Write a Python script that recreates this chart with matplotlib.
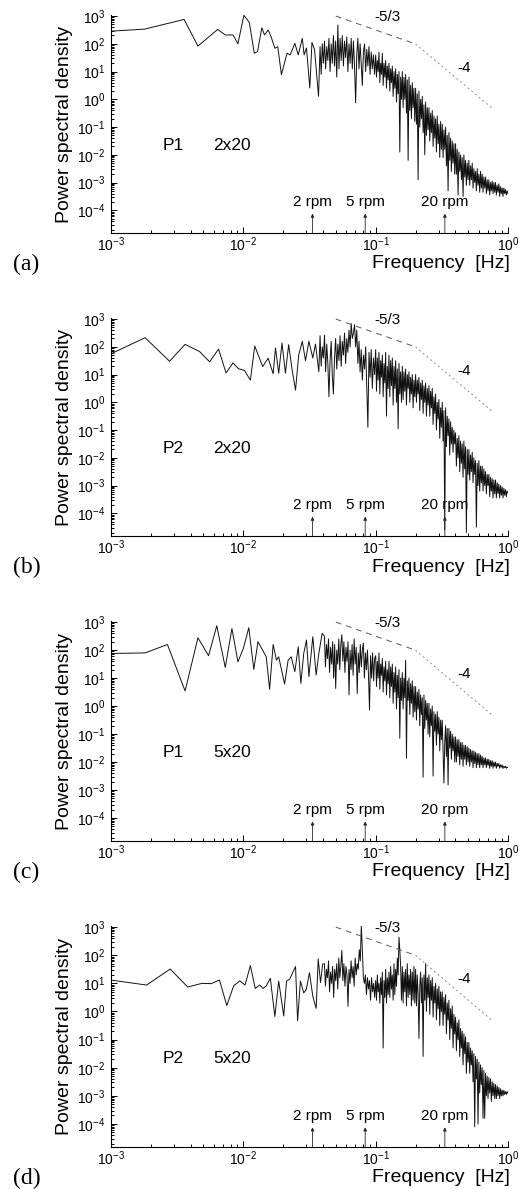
"""
Power spectra of the four probes, log-log, with -5/3 and -4 slope guides
"""

import numpy as np
import matplotlib.pyplot as plt
import matplotlib.ticker as ticker

plt.rcParams['font.family'] = ['Liberation Sans', 'DejaVu Sans']
plt.rcParams['mathtext.fontset'] = 'custom'
plt.rcParams['mathtext.rm'] = 'Liberation Sans'
plt.rcParams['mathtext.it'] = 'Liberation Sans:italic'
plt.rcParams['mathtext.bf'] = 'Liberation Sans:bold'

panel_tags = ['(a)', '(b)', '(c)', '(d)']
probe_names = ['P1', 'P2', 'P1', 'P2']
configs = ['2x20', '2x20', '5x20', '5x20']

rpm_labels = ['2 rpm', '5 rpm', '20 rpm']
rpm_values = [2, 5, 20]

x_decades = [-3, -2, -1, 0]
y_decades = [-4, -3, -2, -1, 0, 1, 2, 3]

# sparse low-frequency part: frequency [Hz] and log10(PSD), read vertex by vertex
freq_low_a = [0.00102, 0.00179, 0.00357, 0.00454, 0.0064, 0.0073, 0.00836, 0.0091, 0.0101, 0.0111,
              0.0121, 0.0128, 0.0138, 0.01445, 0.0154, 0.0162, 0.0173, 0.0182, 0.0194, 0.0214,
              0.0226, 0.0245, 0.026, 0.0279, 0.0288, 0.030, 0.0318, 0.033, 0.0345, 0.037]
logpsd_low_a = [2.46, 2.53, 2.88, 1.92, 2.52, 2.32, 2.32, 2.0, 3.03, 2.77,
                1.66, 1.72, 2.58, 2.32, 2.5, 2.26, 1.84, 1.9, 0.89, 1.66,
                1.6, 2.02, 1.6, 2.2, 1.6, 1.85, 0.41, 2.05, 1.8, 0.11]

freq_low_b = [0.00100, 0.00181, 0.00277, 0.00363, 0.00467, 0.00556, 0.0065, 0.0074, 0.00836, 0.0092,
              0.0102, 0.0113, 0.0122, 0.0140, 0.0154, 0.0168, 0.0175, 0.0185, 0.0196, 0.0208,
              0.0220, 0.0234, 0.0248, 0.0262, 0.0279, 0.0295, 0.0313, 0.0335, 0.0351, 0.0372]
logpsd_low_b = [1.75, 2.33, 1.48, 2.09, 1.83, 1.46, 1.92, 1.06, 1.42, 1.21,
                1.15, 0.8, 2.03, 1.29, 1.59, 1.03, 1.96, 1.05, 2.14, 1.05,
                2.08, 1.15, 0.44, 1.7, 2.2, 1.5, 2.2, 1.6, 2.1, 1.1]

freq_low_c = [0.00102, 0.00181, 0.00267, 0.00363, 0.00454, 0.00546, 0.0063, 0.0073, 0.0082, 0.0091,
              0.0100, 0.0110, 0.0120, 0.0129, 0.0149, 0.0158, 0.0168, 0.0178, 0.0185, 0.0205,
              0.0218, 0.0230, 0.0245, 0.0260, 0.0272, 0.0286, 0.0300, 0.0313, 0.0335, 0.0355,
              0.0372, 0.0394]
logpsd_low_c = [1.88, 1.90, 2.2, 0.54, 2.44, 1.8, 2.87, 1.38, 2.77, 1.58,
                2.06, 2.8, 1.31, 2.3, 1.76, 0.6, 2.2, 1.64, 1.76, 0.79,
                1.64, 1.76, 1.23, 2.12, 0.81, 1.88, 2.36, 1.05, 2.48, 1.11,
                1.88, 2.6]

freq_low_d = [0.00102, 0.00186, 0.0028, 0.0038, 0.00486, 0.00572, 0.0066, 0.0075, 0.00845, 0.0094,
              0.0103, 0.0113, 0.0123, 0.0133, 0.0141, 0.0149, 0.0160, 0.0173, 0.0185, 0.0202,
              0.0212, 0.0224, 0.0248, 0.0257, 0.0270, 0.0286, 0.0299, 0.0316, 0.0335, 0.0355,
              0.0368, 0.0383, 0.0398]
logpsd_low_d = [1.11, 0.94, 1.51, 0.87, 1.0, 0.99, 1.12, 0.21, 0.91, 1.09,
                0.94, 1.63, 0.82, 0.94, 0.82, 0.91, 1.18, -0.18, 1.08, -0.16,
                1.08, 1.15, 1.6, -0.33, 1.08, 0.66, 0.78, 1.38, 0.54, 0.11,
                1.87, 1.03, 1.69]

# dense part, log10(PSD) read along a log-frequency grid:
# mid band from mid_start up to 0.1 Hz (50 readings), high band 0.1 .. 1 Hz (160 readings)
mid_start = [0.038, 0.038, 0.041, 0.041]

logpsd_mid_a = [1.9, 0.9, 2.0, 1.3, 2.1, 1.1, 1.9, 1.4, 2.2, 1.0,
                2.0, 1.3, 2.3, 1.2, 2.1, 0.8, 2.68, 1.1, 2.2, 1.4,
                2.3, 1.2, 2.1, 1.5, 2.25, 1.0, 2.0, 1.3, 2.2, 1.1,
                2.1, 1.2, -0.13, 1.6, 2.2, 1.1, 2.0, 1.3, 0.5, 1.7,
                2.0, 1.0, 1.8, 1.2, 1.9, 0.9, 1.7, 1.1, 1.6, 0.9]
logpsd_high_a = [1.6, 0.8, 1.4, 1.0, 1.7, 0.6, 1.3, 0.9, 1.66, 0.5, 1.3, 0.8, 1.4, 0.4, 1.2, 0.7,
                 1.3, 0.3, 1.1, 0.6, 1.2, 0.1, 1.0, 0.4, 1.1, -0.1, 0.9, 0.2, 1.0, -1.9, 0.8, 0.0,
                 1.0, -0.3, 0.8, 0.0, 0.9, -0.5, 0.7, -2.2, 0.8, -0.4, 0.5, -0.7, 0.6, -0.3, 0.4, -0.8,
                 0.4, -0.9, 0.2, -2.9, 0.3, -1.0, 0.0, -0.7, 0.1, -1.2, -0.2, -2.0, -0.1, -1.3, -0.3, -1.1,
                 -0.3, -1.5, -0.5, -1.2, -0.4, -1.7, -0.6, -1.4, -0.7, -1.9, -0.6, -1.6, -0.9, -2.1, -0.8, -1.8,
                 -0.9, -2.1, -1.1, -1.8, -1.0, -2.4, -1.3, -3.3, -1.2, -2.2, -1.4, -2.6, -1.5, -2.3, -1.6, -2.7,
                 -1.6, -2.7, -1.8, -3.45, -1.9, -2.6, -2.0, -2.9, -2.1, -3.5, -2.0, -2.8, -2.2, -3.1, -2.3, -2.9,
                 -2.2, -3.1, -2.4, -2.9, -2.3, -3.2, -2.5, -3.0, -2.6, -3.3, -2.5, -3.1, -2.7, -3.35, -2.6, -3.2,
                 -2.7, -3.35, -2.8, -3.2, -2.8, -3.4, -2.9, -3.3, -2.9, -3.45, -3.0, -3.3, -2.95, -3.4, -3.0, -3.35,
                 -3.0, -3.45, -3.1, -3.35, -3.05, -3.5, -3.15, -3.4, -3.2, -3.5, -3.2, -3.4, -3.25, -3.45, -3.3, -3.4]

logpsd_mid_b = [2.4, 1.3, 2.0, 1.6, 2.42, 1.1, 2.1, 1.4, 0.2, 1.5,
                2.2, 1.0, 0.3, 1.6, 2.3, 1.2, 2.1, 1.5, 2.4, 1.3,
                2.2, 1.7, 2.5, 1.4, 2.3, 1.8, 2.6, 2.0, 2.84, 2.3,
                2.5, 2.8, 2.0, 2.6, 1.4, 2.2, 1.1, 1.9, 0.8, 1.7,
                1.2, 2.0, 0.6, -0.9, 1.8, 0.9, 1.9, 0.5, 1.6, 1.0]
logpsd_high_b = [1.9, 0.4, 1.6, 0.8, 1.8, 0.3, 1.5, 0.9, 1.7, 0.2, 1.4, 0.7, 1.8, -0.5, 1.3, 0.5,
                 1.7, 0.2, 1.5, 0.6, 1.6, -0.1, 1.3, 0.5, 1.5, 0.0, 1.2, -0.95, 1.4, 0.3, 1.1, 0.0,
                 1.3, 0.1, 1.1, 0.4, 1.2, -0.1, 1.0, 0.5, 1.1, 0.0, 0.9, 0.3, 1.0, -0.2, 0.8, 0.2,
                 1.0, 0.0, 0.8, 0.3, 0.9, -0.3, 0.7, 0.1, 0.8, -0.4, 0.6, 0.0, 0.7, -0.5, 0.5, -0.1,
                 0.6, -0.5, 0.4, -0.2, 0.5, -0.8, 0.2, -0.4, 0.3, -1.0, 0.0, -0.6, 0.1, -1.3, -0.2, -0.9,
                 0.0, -1.4, -0.3, -4.6, -0.2, -1.6, -0.5, -1.2, -0.6, -1.9, -0.7, -1.5, -0.9, -1.8, -1.0, -1.5,
                 -1.1, -2.3, -1.3, -2.0, -1.2, -2.5, -1.4, -2.2, -1.5, -2.7, -1.4, -2.4, -1.6, -4.7, -1.7, -2.6,
                 -1.7, -2.8, -1.9, -2.5, -1.8, -2.9, -2.0, -2.6, -2.1, -4.5, -2.2, -3.0, -2.1, -3.2, -2.3, -2.9,
                 -2.3, -3.2, -2.4, -3.0, -2.5, -3.3, -2.6, -3.0, -2.6, -3.4, -2.7, -3.2, -2.75, -3.45, -2.8, -3.3,
                 -2.8, -3.45, -2.9, -3.3, -2.95, -3.45, -3.0, -3.35, -3.05, -3.45, -3.1, -3.35, -3.15, -3.4, -3.2, -3.25]

logpsd_mid_c = [2.5, 1.4, 2.2, 1.7, 2.4, 1.2, 2.1, 1.5, 2.3, 1.0,
                2.2, 0.63, 2.0, 1.5, 2.4, 1.3, 2.2, 2.55, 1.6, 2.3,
                1.2, 2.1, 1.6, 2.3, 0.4, 2.0, 1.3, 2.2, 1.1, 2.4,
                1.5, 2.1, 0.45, 1.9, 1.2, 2.2, 1.4, 2.0, 2.25, 1.0,
                1.9, 1.3, 2.0, 1.1, -0.14, 1.8, 1.0, 1.9, 0.9, 1.7]
logpsd_high_c = [1.8, 0.7, 1.6, 1.0, 1.9, 0.6, 1.5, 1.1, 1.7, 0.5, 1.4, 0.9, 1.6, 0.4, 1.3, 0.8,
                 1.6, 0.3, 1.4, 0.7, 1.5, 0.1, 1.2, 0.5, 1.4, -0.1, 1.1, 0.3, 1.3, -1.15, 1.0, 0.2,
                 1.2, -0.1, 1.0, 0.3, 1.64, -1.86, 0.9, 0.2, 1.0, -0.3, 0.8, 0.1, 0.9, -0.4, 0.7, -0.2,
                 0.7, -0.5, 0.5, -0.1, 0.6, -0.7, 0.4, -0.3, 0.3, -2.54, 0.4, -0.8, 0.2, -0.5, 0.1, -1.0,
                 0.1, -1.1, -0.1, -0.7, 0.0, -2.5, -0.2, -0.9, -0.3, -1.4, -0.2, -1.0, -0.4, -1.6, -0.5, -1.2,
                 -0.5, -1.6, -2.75, -1.3, -0.7, -1.8, -0.8, -2.82, -0.8, -1.5, -0.9, -1.9, -1.0, -1.6, -1.1, -2.0,
                 -1.1, -2.0, -1.2, -1.8, -1.2, -2.1, -1.3, -1.9, -1.3, -2.15, -1.4, -1.9, -1.4, -2.1, -1.45, -2.0,
                 -1.5, -2.15, -1.55, -2.0, -1.6, -2.2, -1.6, -2.05, -1.65, -2.2, -1.7, -2.1, -1.7, -2.2, -1.75, -2.1,
                 -1.8, -2.2, -1.85, -2.1, -1.85, -2.2, -1.9, -2.12, -1.9, -2.22, -1.95, -2.15, -1.95, -2.22, -2.0, -2.15,
                 -2.0, -2.22, -2.05, -2.15, -2.05, -2.22, -2.1, -2.18, -2.1, -2.23, -2.15, -2.2, -2.15, -2.22, -2.18, -2.2]

logpsd_mid_d = [1.7, 0.9, 1.5, 1.2, 1.8, 0.7, 1.4, 1.0, 1.6, 0.5,
                1.5, 1.1, 1.7, 0.8, 1.9, 1.2, 1.6, 2.17, 1.1, 1.7,
                0.9, 1.6, 1.3, 0.18, 1.5, 1.0, 1.8, 1.2, 1.6, 0.9,
                1.9, 1.3, 1.7, 1.5, 2.2, 1.8, 3.05, 2.2, 1.2, 1.0,
                1.3, 0.6, 1.2, 0.8, 1.1, 0.4, 1.2, 0.7, 1.0, 0.5]
logpsd_high_d = [1.1, 0.4, 1.3, 0.7, 1.0, 0.3, 1.2, 0.6, 1.4, -1.3, 1.1, 0.5, 1.5, 0.3, 1.2, 0.6,
                 1.4, 0.5, 1.6, 0.8, 1.3, 0.4, 1.7, 0.6, 1.5, 0.9, 1.9, 1.3, 2.64, 2.2, 1.6, 0.4,
                 1.6, 0.3, 1.4, 0.7, 1.5, 0.2, 1.7, 0.5, 1.3, 0.6, 1.5, 0.2, 1.4, 0.4, 1.6, 0.3,
                 1.5, 0.2, 1.3, 0.6, -0.96, 0.9, 1.4, 0.3, 1.2, -1.6, 1.3, 0.4, 1.7, 0.0, 1.2, 0.5,
                 1.3, -0.1, 1.1, 0.4, 1.2, -0.2, 0.9, 0.3, 1.0, -0.3, 0.8, 0.1, 0.9, -0.5, 0.7, 0.0,
                 0.7, -0.5, 0.5, -0.1, 0.6, -0.8, 0.3, -0.3, 0.4, -1.0, 0.1, -0.6, 0.2, -1.3, -0.1, -0.8,
                 -0.2, -1.4, -0.4, -1.0, -0.3, -1.6, -0.6, -1.3, -0.7, -1.9, -0.8, -1.5, -0.9, -2.2, -1.1, -1.8,
                 -1.1, -2.2, -1.3, -1.9, -1.4, -2.5, -1.5, -4.1, -1.6, -2.4, -1.7, -4.0, -1.8, -2.9, -1.9, -2.6,
                 -2.0, -3.8, -2.1, -3.8, -2.2, -3.0, -2.3, -3.1, -2.35, -2.9, -2.4, -3.2, -2.5, -3.0, -2.55, -3.1,
                 -2.6, -3.1, -2.65, -3.0, -2.7, -3.1, -2.75, -3.0, -2.8, -3.0, -2.8, -2.95, -2.85, -2.95, -2.85, -2.9]

freq_low = [freq_low_a, freq_low_b, freq_low_c, freq_low_d]
logpsd_low = [logpsd_low_a, logpsd_low_b, logpsd_low_c, logpsd_low_d]
logpsd_mid = [logpsd_mid_a, logpsd_mid_b, logpsd_mid_c, logpsd_mid_d]
logpsd_high = [logpsd_high_a, logpsd_high_b, logpsd_high_c, logpsd_high_d]

# slope guides
guide_start_f, guide_start_p = 0.05, 1e3
guide_knee_f = 0.2
guide_end_f = 0.75

# axes boxes in pixels (top, bottom) of a 530x1189 figure
W, H = 530, 1189
ax_left, ax_right = 111, 508
ax_rows = [(15, 233), (318, 536), (621, 841), (926, 1147)]
YMIN, YMAX = 10 ** -4.82, 10 ** 3.04


def spectrum(k):
    f_mid = np.geomspace(mid_start[k], 0.1, len(logpsd_mid[k]), endpoint=False)
    f_high = np.geomspace(0.1, 1.0, len(logpsd_high[k]))
    f = np.concatenate([freq_low[k], f_mid, f_high])
    p = 10 ** np.concatenate([logpsd_low[k], logpsd_mid[k], logpsd_high[k]])
    return f, p


def minor_positions(decades, lo, hi):
    pos = [m * 10.0 ** d for d in range(min(decades) - 1, max(decades) + 1) for m in range(2, 10)]
    return [v for v in pos if lo < v < hi]


def style_axes(ax):
    ax.set_xscale('log')
    ax.set_yscale('log')
    ax.set_xlim(1e-3, 1.0)
    ax.set_ylim(YMIN, YMAX)
    ax.spines['top'].set_visible(False)
    ax.spines['right'].set_visible(False)
    for s in ['left', 'bottom']:
        ax.spines[s].set_linewidth(0.8)
    ax.xaxis.set_major_locator(ticker.FixedLocator([10.0 ** d for d in x_decades]))
    ax.yaxis.set_major_locator(ticker.FixedLocator([10.0 ** d for d in y_decades]))
    ax.xaxis.set_minor_locator(ticker.FixedLocator(minor_positions(x_decades, 1e-3, 1.0)))
    ax.yaxis.set_minor_locator(ticker.FixedLocator(minor_positions(y_decades, YMIN, YMAX)))
    ax.xaxis.set_major_formatter(ticker.FixedFormatter(['$10^{%d}$' % d for d in x_decades]))
    ax.yaxis.set_major_formatter(ticker.FixedFormatter(['$10^{%d}$' % d for d in y_decades]))
    ax.xaxis.set_minor_formatter(ticker.NullFormatter())
    ax.yaxis.set_minor_formatter(ticker.NullFormatter())
    ax.tick_params(which='both', direction='in', labelsize=10, width=0.7)
    ax.tick_params(which='major', length=4)
    ax.tick_params(which='minor', length=2)
    ax.tick_params(axis='x', pad=2)
    ax.tick_params(axis='y', pad=4)


fig = plt.figure(figsize=(W / 100, H / 100), dpi=100)

for k in range(4):
    top, bottom = ax_rows[k]
    ax = fig.add_axes([ax_left / W, 1 - bottom / H, (ax_right - ax_left) / W, (bottom - top) / H])
    style_axes(ax)

    f, p = spectrum(k)
    ax.plot(f, p, color='#111111', lw=0.7)

    # -5/3 and -4 guides
    f1 = np.array([guide_start_f, guide_knee_f])
    p1 = guide_start_p * (f1 / guide_start_f) ** (-5 / 3)
    ax.plot(f1, p1, color='0.35', lw=0.7, ls=(0, (6, 5)))
    f2 = np.array([guide_knee_f, guide_end_f])
    p2 = p1[-1] * (f2 / guide_knee_f) ** (-4)
    ax.plot(f2, p2, color='0.55', lw=0.7, ls=(0, (2, 3)))
    ax.text(0.123, 10 ** 2.97, '-5/3', fontsize=11, ha='center', va='center')
    ax.text(0.465, 10 ** 1.14, '-4', fontsize=11, ha='center', va='center')

    # rotation-speed markers
    for lab, rpm in zip(rpm_labels, rpm_values):
        fr = rpm / 60.0
        ax.annotate('', xy=(fr, 10 ** -4.12), xytext=(fr, YMIN),
                    arrowprops=dict(arrowstyle='-|>', lw=0.6, color='0.15',
                                    mutation_scale=5, shrinkA=0, shrinkB=0))
        ax.text(fr, 10 ** -3.72, lab, fontsize=11, ha='center', va='center')

    ax.text(0.131, 0.40, probe_names[k], transform=ax.transAxes, fontsize=12.5,
            ha='left', va='center')
    ax.text(0.257, 0.40, configs[k], transform=ax.transAxes, fontsize=12.5,
            ha='left', va='center')

    ax.set_ylabel('Power spectral density', fontsize=14, labelpad=3)

    y_lab = 1 - (bottom + 31) / H
    fig.text(0.962, y_lab, 'Frequency  [Hz]', fontsize=14, ha='right', va='center')
    fig.text(0.024, y_lab, panel_tags[k], fontsize=17, ha='left', va='center',
             family='Liberation Serif')

fig.savefig('out.png', dpi=100)
